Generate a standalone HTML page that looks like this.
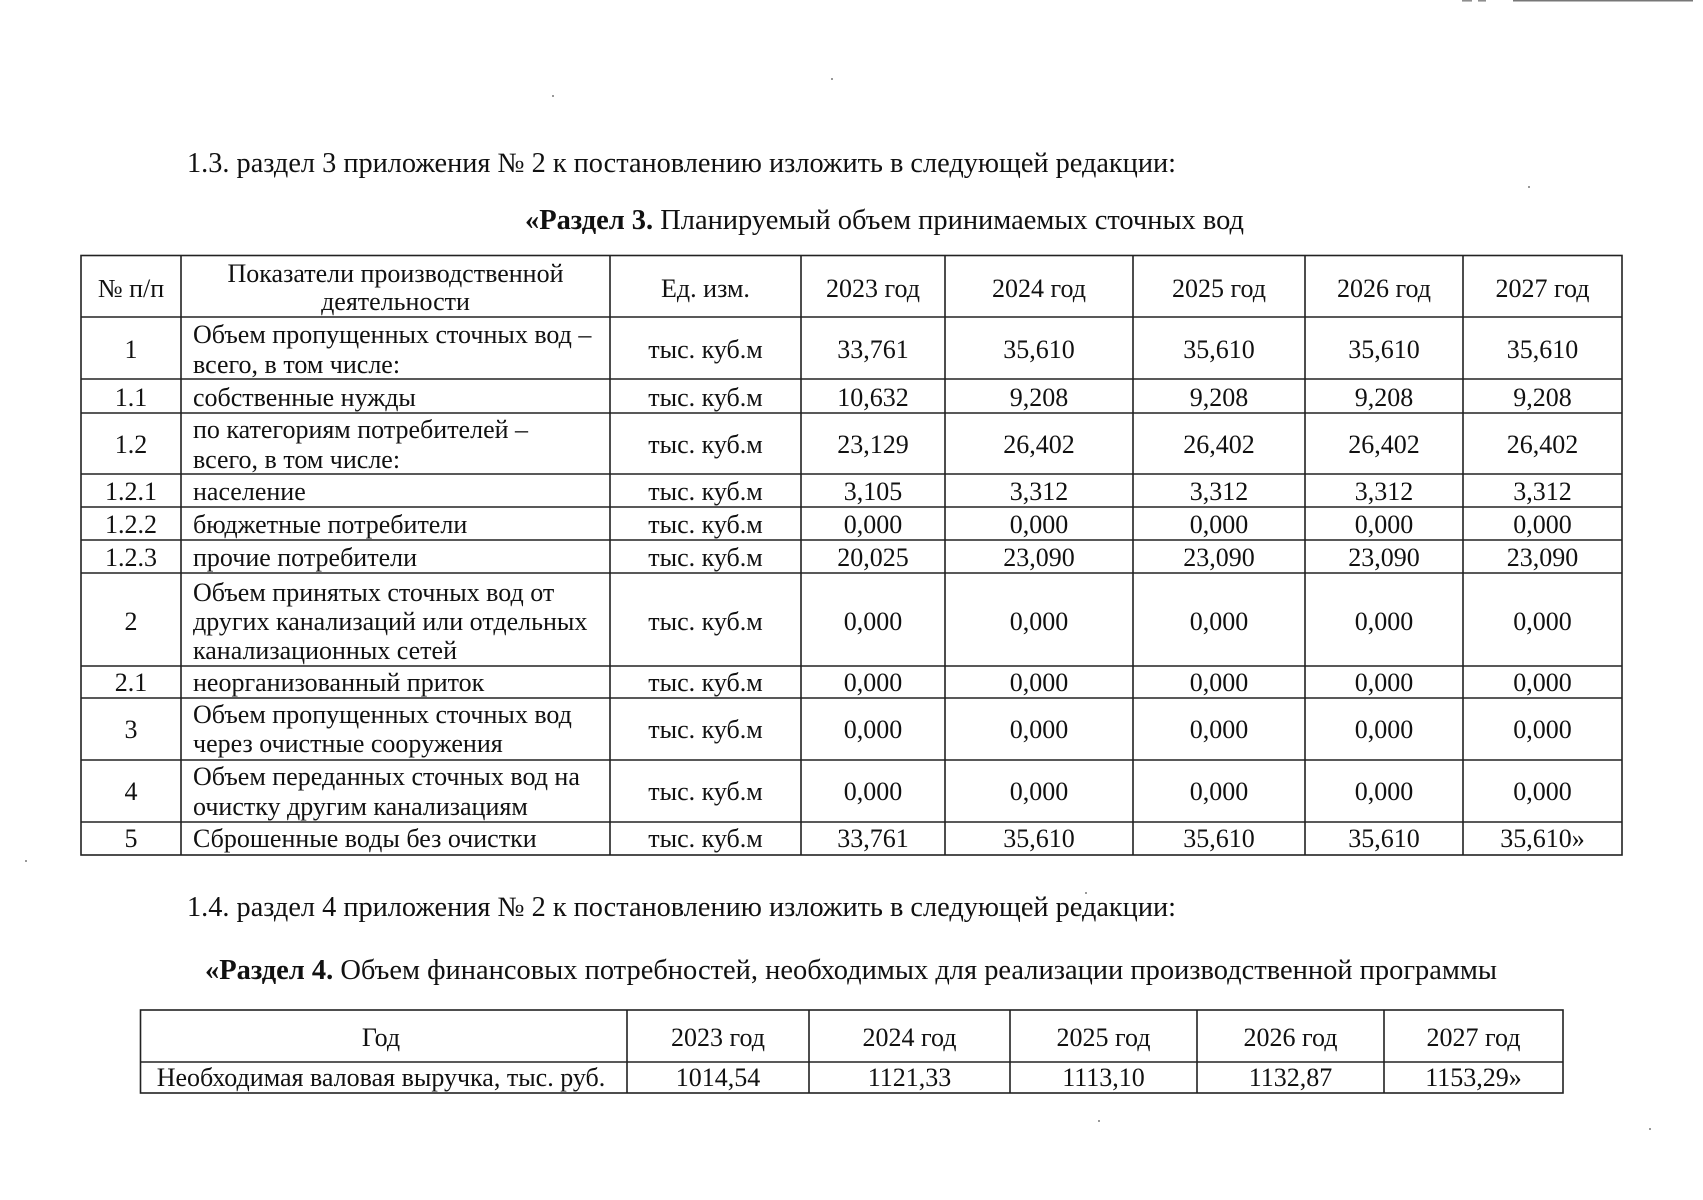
<!DOCTYPE html>
<html>
<head>
<meta charset="utf-8">
<style>
html,body{margin:0;padding:0;background:#fff;}
svg{display:block;}
text{font-family:"Liberation Serif","DejaVu Serif","Noto Serif CJK SC",serif;fill:#111;}
.t{font-size:26px;}
.h{font-size:28px;}
.c{text-anchor:middle;}
</style>
</head>
<body>
<svg width="1703" height="1200" viewBox="0 0 1703 1200" xmlns="http://www.w3.org/2000/svg">
<rect width="1703" height="1200" fill="#fff"/>
<!-- scan artifact top right -->
<line x1="1513" y1="0.8" x2="1693" y2="0.8" stroke="#777" stroke-width="1.5"/>
<line x1="1462" y1="0.8" x2="1472" y2="0.8" stroke="#888" stroke-width="1.5"/>
<line x1="1478" y1="0.8" x2="1486" y2="0.8" stroke="#888" stroke-width="1.5"/>

<!-- Headings -->
<text class="h" x="187" y="172" textLength="989" lengthAdjust="spacingAndGlyphs">1.3. раздел 3 приложения № 2 к постановлению изложить в следующей редакции:</text>
<text class="h" x="525" y="229" textLength="719" lengthAdjust="spacingAndGlyphs"><tspan font-weight="bold">«Раздел 3.</tspan> Планируемый объем принимаемых сточных вод</text>

<!-- Table 1 grid -->
<g stroke="#222" stroke-width="1.6" fill="none">
<rect x="81" y="255.5" width="1541" height="599.5"/>
<line x1="181" y1="255" x2="181" y2="855"/>
<line x1="610" y1="255" x2="610" y2="855"/>
<line x1="801" y1="255" x2="801" y2="855"/>
<line x1="945" y1="255" x2="945" y2="855"/>
<line x1="1133" y1="255" x2="1133" y2="855"/>
<line x1="1305" y1="255" x2="1305" y2="855"/>
<line x1="1463" y1="255" x2="1463" y2="855"/>
<line x1="81" y1="317" x2="1622" y2="317"/>
<line x1="81" y1="379" x2="1622" y2="379"/>
<line x1="81" y1="413" x2="1622" y2="413"/>
<line x1="81" y1="474" x2="1622" y2="474"/>
<line x1="81" y1="507" x2="1622" y2="507"/>
<line x1="81" y1="540" x2="1622" y2="540"/>
<line x1="81" y1="573" x2="1622" y2="573"/>
<line x1="81" y1="666" x2="1622" y2="666"/>
<line x1="81" y1="698" x2="1622" y2="698"/>
<line x1="81" y1="760" x2="1622" y2="760"/>
<line x1="81" y1="822" x2="1622" y2="822"/>
</g>

<!-- Header -->
<g class="t">
<text class="t c" x="131" y="297">№ п/п</text>
<text class="t c" x="395.5" y="282">Показатели производственной</text>
<text class="t c" x="395.5" y="310">деятельности</text>
<text class="t c" x="705.5" y="297">Ед. изм.</text>
<text class="t c" x="873" y="297">2023 год</text>
<text class="t c" x="1039" y="297">2024 год</text>
<text class="t c" x="1219" y="297">2025 год</text>
<text class="t c" x="1384" y="297">2026 год</text>
<text class="t c" x="1542.5" y="297">2027 год</text>
</g>

<!-- Row 1 -->
<text class="t c" x="131" y="358">1</text>
<text class="t" x="193" y="343">Объем пропущенных сточных вод –</text>
<text class="t" x="193" y="373">всего, в том числе:</text>
<text class="t c" x="705.5" y="358">тыс. куб.м</text>
<text class="t c" x="873" y="358">33,761</text>
<text class="t c" x="1039" y="358">35,610</text>
<text class="t c" x="1219" y="358">35,610</text>
<text class="t c" x="1384" y="358">35,610</text>
<text class="t c" x="1542.5" y="358">35,610</text>

<!-- Row 1.1 -->
<text class="t c" x="131" y="406">1.1</text>
<text class="t" x="193" y="406">собственные нужды</text>
<text class="t c" x="705.5" y="406">тыс. куб.м</text>
<text class="t c" x="873" y="406">10,632</text>
<text class="t c" x="1039" y="406">9,208</text>
<text class="t c" x="1219" y="406">9,208</text>
<text class="t c" x="1384" y="406">9,208</text>
<text class="t c" x="1542.5" y="406">9,208</text>

<!-- Row 1.2 -->
<text class="t c" x="131" y="453">1.2</text>
<text class="t" x="193" y="438">по категориям потребителей –</text>
<text class="t" x="193" y="468">всего, в том числе:</text>
<text class="t c" x="705.5" y="453">тыс. куб.м</text>
<text class="t c" x="873" y="453">23,129</text>
<text class="t c" x="1039" y="453">26,402</text>
<text class="t c" x="1219" y="453">26,402</text>
<text class="t c" x="1384" y="453">26,402</text>
<text class="t c" x="1542.5" y="453">26,402</text>

<!-- Row 1.2.1 -->
<text class="t c" x="131" y="500">1.2.1</text>
<text class="t" x="193" y="500">население</text>
<text class="t c" x="705.5" y="500">тыс. куб.м</text>
<text class="t c" x="873" y="500">3,105</text>
<text class="t c" x="1039" y="500">3,312</text>
<text class="t c" x="1219" y="500">3,312</text>
<text class="t c" x="1384" y="500">3,312</text>
<text class="t c" x="1542.5" y="500">3,312</text>

<!-- Row 1.2.2 -->
<text class="t c" x="131" y="533">1.2.2</text>
<text class="t" x="193" y="533">бюджетные потребители</text>
<text class="t c" x="705.5" y="533">тыс. куб.м</text>
<text class="t c" x="873" y="533">0,000</text>
<text class="t c" x="1039" y="533">0,000</text>
<text class="t c" x="1219" y="533">0,000</text>
<text class="t c" x="1384" y="533">0,000</text>
<text class="t c" x="1542.5" y="533">0,000</text>

<!-- Row 1.2.3 -->
<text class="t c" x="131" y="566">1.2.3</text>
<text class="t" x="193" y="566">прочие потребители</text>
<text class="t c" x="705.5" y="566">тыс. куб.м</text>
<text class="t c" x="873" y="566">20,025</text>
<text class="t c" x="1039" y="566">23,090</text>
<text class="t c" x="1219" y="566">23,090</text>
<text class="t c" x="1384" y="566">23,090</text>
<text class="t c" x="1542.5" y="566">23,090</text>

<!-- Row 2 -->
<text class="t c" x="131" y="630">2</text>
<text class="t" x="193" y="601">Объем принятых сточных вод от</text>
<text class="t" x="193" y="630">других канализаций или отдельных</text>
<text class="t" x="193" y="659">канализационных сетей</text>
<text class="t c" x="705.5" y="630">тыс. куб.м</text>
<text class="t c" x="873" y="630">0,000</text>
<text class="t c" x="1039" y="630">0,000</text>
<text class="t c" x="1219" y="630">0,000</text>
<text class="t c" x="1384" y="630">0,000</text>
<text class="t c" x="1542.5" y="630">0,000</text>

<!-- Row 2.1 -->
<text class="t c" x="131" y="691">2.1</text>
<text class="t" x="193" y="691">неорганизованный приток</text>
<text class="t c" x="705.5" y="691">тыс. куб.м</text>
<text class="t c" x="873" y="691">0,000</text>
<text class="t c" x="1039" y="691">0,000</text>
<text class="t c" x="1219" y="691">0,000</text>
<text class="t c" x="1384" y="691">0,000</text>
<text class="t c" x="1542.5" y="691">0,000</text>

<!-- Row 3 -->
<text class="t c" x="131" y="738">3</text>
<text class="t" x="193" y="723">Объем пропущенных сточных вод</text>
<text class="t" x="193" y="752">через очистные сооружения</text>
<text class="t c" x="705.5" y="738">тыс. куб.м</text>
<text class="t c" x="873" y="738">0,000</text>
<text class="t c" x="1039" y="738">0,000</text>
<text class="t c" x="1219" y="738">0,000</text>
<text class="t c" x="1384" y="738">0,000</text>
<text class="t c" x="1542.5" y="738">0,000</text>

<!-- Row 4 -->
<text class="t c" x="131" y="800">4</text>
<text class="t" x="193" y="785">Объем переданных сточных вод на</text>
<text class="t" x="193" y="815">очистку другим канализациям</text>
<text class="t c" x="705.5" y="800">тыс. куб.м</text>
<text class="t c" x="873" y="800">0,000</text>
<text class="t c" x="1039" y="800">0,000</text>
<text class="t c" x="1219" y="800">0,000</text>
<text class="t c" x="1384" y="800">0,000</text>
<text class="t c" x="1542.5" y="800">0,000</text>

<!-- Row 5 -->
<text class="t c" x="131" y="847">5</text>
<text class="t" x="193" y="847">Сброшенные воды без очистки</text>
<text class="t c" x="705.5" y="847">тыс. куб.м</text>
<text class="t c" x="873" y="847">33,761</text>
<text class="t c" x="1039" y="847">35,610</text>
<text class="t c" x="1219" y="847">35,610</text>
<text class="t c" x="1384" y="847">35,610</text>
<text class="t c" x="1542.5" y="847">35,610»</text>

<!-- Section 4 headings -->
<text class="h" x="187" y="916" textLength="989" lengthAdjust="spacingAndGlyphs">1.4. раздел 4 приложения № 2 к постановлению изложить в следующей редакции:</text>
<text class="h" x="205" y="979" textLength="1292" lengthAdjust="spacingAndGlyphs"><tspan font-weight="bold">«Раздел 4.</tspan> Объем финансовых потребностей, необходимых для реализации производственной программы</text>

<!-- Table 2 grid -->
<g stroke="#222" stroke-width="1.6" fill="none">
<rect x="140.5" y="1010" width="1422.5" height="83"/>
<line x1="627" y1="1010" x2="627" y2="1093"/>
<line x1="809" y1="1010" x2="809" y2="1093"/>
<line x1="1010" y1="1010" x2="1010" y2="1093"/>
<line x1="1197" y1="1010" x2="1197" y2="1093"/>
<line x1="1384" y1="1010" x2="1384" y2="1093"/>
<line x1="140" y1="1062" x2="1563" y2="1062"/>
</g>

<text class="t c" x="381" y="1046">Год</text>
<text class="t c" x="718" y="1046">2023 год</text>
<text class="t c" x="909.5" y="1046">2024 год</text>
<text class="t c" x="1103.5" y="1046">2025 год</text>
<text class="t c" x="1290.5" y="1046">2026 год</text>
<text class="t c" x="1473.5" y="1046">2027 год</text>

<text class="t c" x="381" y="1086">Необходимая валовая выручка, тыс. руб.</text>
<text class="t c" x="718" y="1086">1014,54</text>
<text class="t c" x="909.5" y="1086">1121,33</text>
<text class="t c" x="1103.5" y="1086">1113,10</text>
<text class="t c" x="1290.5" y="1086">1132,87</text>
<text class="t c" x="1473.5" y="1086">1153,29»</text>

<!-- a few scan specks -->
<g fill="#999">
<rect x="831" y="78" width="2" height="2"/>
<rect x="552" y="95" width="2" height="2"/>
<rect x="1528" y="186" width="2" height="2"/>
<rect x="1085" y="892" width="2" height="2"/>
<rect x="1098" y="1120" width="2" height="2"/>
<rect x="1649" y="1128" width="2" height="2"/>
<rect x="25" y="860" width="2" height="2"/>
</g>
</svg>
</body>
</html>
